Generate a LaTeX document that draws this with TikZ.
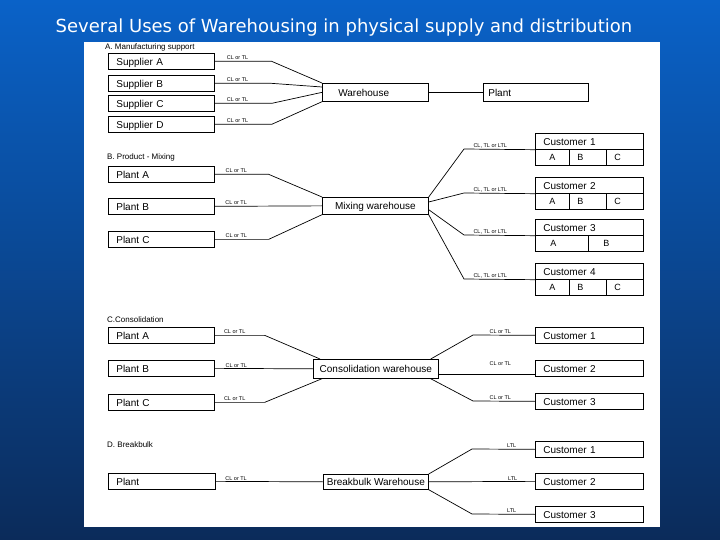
\documentclass[tikz,border=0pt]{standalone}
\usepackage{fontspec}
\setmainfont{Liberation Sans}
\newfontfamily\titlefont{DejaVu Sans}
\usetikzlibrary{calc}
\definecolor{slidetop}{HTML}{0A62C8}
\definecolor{slidebottom}{HTML}{0B2B5A}
\tikzset{box/.style={draw,line width=0.7pt,anchor=north west,minimum height=16pt,inner xsep=8pt,inner ysep=0pt,text height=7.5pt,text depth=0pt,align=left,font=\fontsize{10}{12}\selectfont}}
\tikzset{hbox/.style={draw,line width=0.7pt,anchor=north west,inner xsep=2pt,inner ysep=0pt,text height=7.5pt,text depth=0pt,font=\fontsize{10}{12}\selectfont}}
\tikzset{cell/.style={draw,line width=0.7pt,anchor=north west,minimum height=16pt,inner xsep=8pt,inner ysep=0pt,text height=7pt,text depth=0pt,align=left,font=\fontsize{9}{10}\selectfont}}
\tikzset{lbl/.style={above,inner sep=1pt,font=\fontsize{5.5}{6}\selectfont}}
\tikzset{head/.style={anchor=west,inner sep=0pt,font=\fontsize{8}{9}\selectfont}}
\tikzset{link/.style={line width=0.7pt}}

\begin{document}
\begin{tikzpicture}[x=1pt,y=-1pt]
	\useasboundingbox (0,0) rectangle (720,540);
	\shade[top color=slidetop,bottom color=slidebottom] (0,0) rectangle (720,540);
	\fill[white] (84,42) rectangle (660,527);
	\node[text=white,font=\titlefont\fontsize{18}{20}\selectfont] (title) at (344,28) {Several Uses of Warehousing in physical supply and distribution};

	% A. manufacturing support
	\node[head] (headA) at (105,47) {A. Manufacturing support};
	\node[box,text width=90pt] (supA) at (108,53) {Supplier A};
	\node[box,text width=90pt] (supB) at (108,75) {Supplier B};
	\node[box,text width=90pt] (supC) at (108,95) {Supplier C};
	\node[box,text width=90pt] (supD) at (108,116) {Supplier D};
	\node[box,text width=74pt,inner xsep=16pt,minimum height=18pt] (wh) at (322,83) {Warehouse};
	\node[box,text width=95pt,inner xsep=5pt,minimum height=18pt] (plant) at (483,83) {Plant};

	\draw[link] (supA.east) -- node[lbl,pos=.4]{CL or TL} ++(57,0) -- (wh.north west);
	\draw[link] (supB.east) -- node[lbl,pos=.4]{CL or TL} ++(57,0) -- ($(wh.north west)+(0,4)$);
	\draw[link] (supC.east) -- node[lbl,pos=.4]{CL or TL} ++(57,0) -- (wh.west);
	\draw[link] (supD.east) -- node[lbl,pos=.4]{CL or TL} ++(57,0) -- (wh.south west);
	\draw[link] (wh.east) -- (plant.west);

	% B. product mixing
	\node[head] (headB) at (107,157) {B. Product - Mixing};
	\node[box,text width=90pt] (bPlantA) at (108,166) {Plant A};
	\node[box,text width=90pt] (bPlantB) at (108,198) {Plant B};
	\node[box,text width=90pt] (bPlantC) at (108,231) {Plant C};
	\node[hbox,minimum width=106pt,minimum height=17pt] (mix) at (322,197) {Mixing warehouse};

	\node[box,text width=92pt] (bCust1) at (535,133) {Customer 1};
	\node[cell,text width=18pt,align=center] (bCust1a) at (535,149) {A};
	\node[cell,text width=21pt] (bCust1b) at (569,149) {B};
	\node[cell,text width=21pt] (bCust1c) at (606,149) {C};
	\node[box,text width=92pt] (bCust2) at (535,177) {Customer 2};
	\node[cell,text width=18pt,align=center] (bCust2a) at (535,193) {A};
	\node[cell,text width=21pt] (bCust2b) at (569,193) {B};
	\node[cell,text width=21pt] (bCust2c) at (606,193) {C};
	\node[box,text width=92pt] (bCust3) at (535,219) {Customer 3};
	\node[cell,text width=23pt,inner xsep=15pt] (bCust3a) at (535,235) {A};
	\node[cell,text width=25pt,inner xsep=15pt] (bCust3b) at (588,235) {B};
	\node[box,text width=92pt] (bCust4) at (535,263) {Customer 4};
	\node[cell,text width=18pt,align=center] (bCust4a) at (535,279) {A};
	\node[cell,text width=21pt] (bCust4b) at (569,279) {B};
	\node[cell,text width=21pt] (bCust4c) at (606,279) {C};

	\draw[link] (bPlantA.east) -- node[lbl,pos=.4]{CL or TL} ++(54,0) -- (mix.north west);
	\draw[link] (bPlantB.east) -- node[lbl,pos=.2]{CL or TL} (mix.west);
	\draw[link] (bPlantC.east) -- node[lbl,pos=.4]{CL or TL} ++(54,0) -- (mix.south west);
	\draw[link] (mix.north east) -- (464,149) -- node[lbl,pos=.37]{CL, TL or LTL} (bCust1.south west);
	\draw[link] ($(mix.north east)+(0,5)$) -- (464,193) -- node[lbl,pos=.37]{CL, TL or LTL} (bCust2.south west);
	\draw[link] ($(mix.south east)+(0,-5)$) -- (464,235) -- node[lbl,pos=.37]{CL, TL or LTL} (bCust3.south west);
	\draw[link] (mix.south east) -- (464,279) -- node[lbl,pos=.37]{CL, TL or LTL} (bCust4.south west);

	% C. consolidation
	\node[head] (headC) at (107,320) {C.Consolidation};
	\node[box,text width=90pt] (cPlantA) at (108,327) {Plant A};
	\node[box,text width=90pt] (cPlantB) at (108,360) {Plant B};
	\node[box,text width=90pt] (cPlantC) at (108,394) {Plant C};
	\node[hbox,minimum width=125pt,minimum height=19pt] (con) at (313,359) {Consolidation warehouse};
	\node[box,text width=92pt] (cCust1) at (535,327) {Customer 1};
	\node[box,text width=92pt] (cCust2) at (535,360) {Customer 2};
	\node[box,text width=92pt] (cCust3) at (535,393) {Customer 3};

	\draw[link] (cPlantA.east) -- node[lbl,pos=.4]{CL or TL} ++(50,0) -- ($(con.north west)+(7,0)$);
	\draw[link] (cPlantB.east) -- node[lbl,pos=.22]{CL or TL} (con.west);
	\draw[link] (cPlantC.east) -- node[lbl,pos=.4]{CL or TL} ++(50,0) -- ($(con.south west)+(9,0)$);
	\draw[link] ($(con.north east)+(-8,0)$) -- (473,335) -- node[lbl,pos=.44]{CL or TL} (cCust1.west);
	\draw[link] ($(con.south east)+(0,-4)$) -- node[lbl,pos=.64,yshift=8pt]{CL or TL} ($(cCust2.south west)+(0,-2)$);
	\draw[link] ($(con.south east)+(-8,0)$) -- (473,401) -- node[lbl,pos=.44]{CL or TL} (cCust3.west);

	% D. breakbulk
	\node[head] (headD) at (107,445) {D. Breakbulk};
	\node[box,text width=91pt] (dPlant) at (108,473) {Plant};
	\node[hbox,minimum width=105pt,minimum height=15pt] (bb) at (323,474) {Breakbulk Warehouse};
	\node[box,text width=92pt] (dCust1) at (535,441) {Customer 1};
	\node[box,text width=92pt] (dCust2) at (535,473) {Customer 2};
	\node[box,text width=92pt] (dCust3) at (535,506) {Customer 3};

	\draw[link] (dPlant.east) -- node[lbl,pos=.19]{CL or TL} (bb.west);
	\draw[link] (bb.north east) -- (472,449) -- node[lbl,pos=.63]{LTL} (dCust1.west);
	\draw[link] (bb.east) -- node[lbl,pos=.79]{LTL} (dCust2.west);
	\draw[link] (bb.south east) -- (472,514) -- node[lbl,pos=.63]{LTL} (dCust3.west);
\end{tikzpicture}
\end{document}
